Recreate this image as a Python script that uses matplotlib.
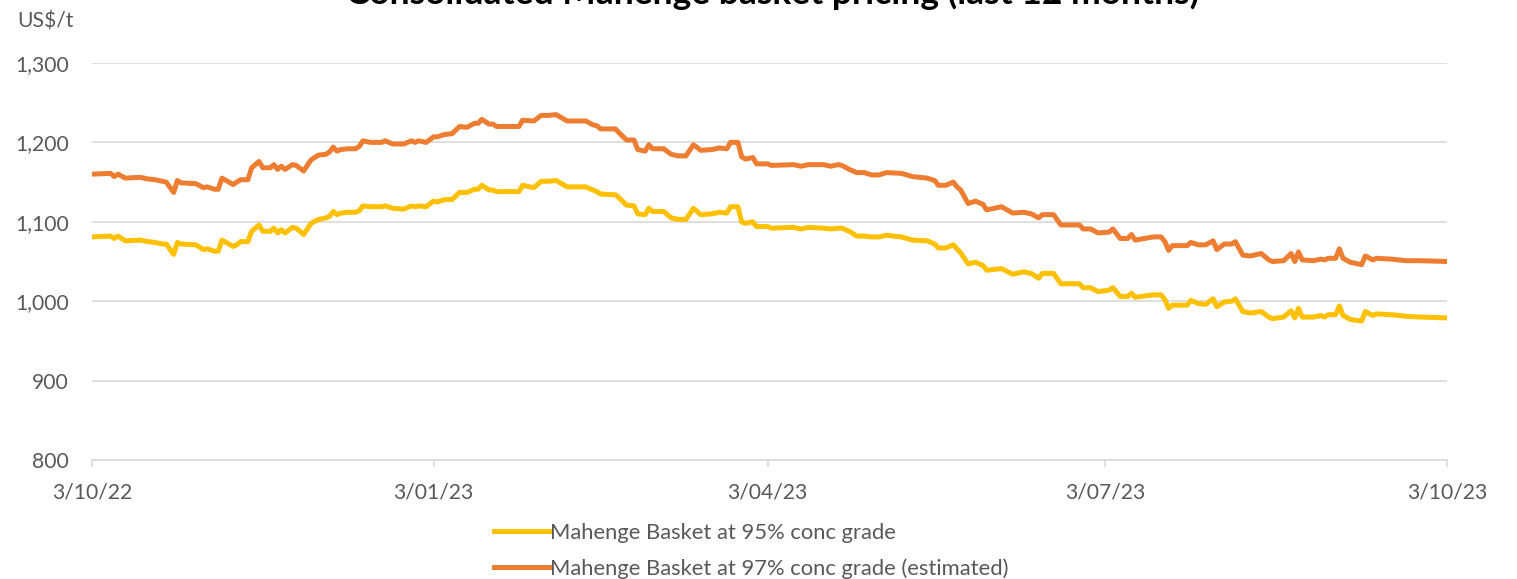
import matplotlib
matplotlib.use("Agg")
import matplotlib.pyplot as plt
import matplotlib.dates as mdates
import pandas as pd

start_date = "2022-10-03"
# days after start_date for each price point
day_offsets = [
    0, 5, 6, 7, 9, 13, 15, 17, 19, 20, 22, 23, 24, 28, 30, 31, 33, 34, 35, 38,
    39, 40, 42, 43, 45, 46, 48, 49, 50, 51, 52, 54, 55, 57, 59, 61, 63, 64, 65, 66,
    67, 69, 71, 72, 73, 75, 78, 79, 81, 84, 86, 87, 88, 90, 92, 93, 95, 97, 99, 101,
    103, 104, 105, 107, 108, 109, 115, 116, 119, 121, 123, 125, 128, 133, 135, 136, 137, 141, 142, 144,
    146, 147, 149, 150, 151, 154, 156, 158, 160, 162, 164, 167, 169, 171, 172, 174, 175, 176, 178, 179,
    182, 183, 189, 191, 193, 197, 199, 201, 202, 204, 206, 208, 210, 212, 214, 218, 221, 225, 227, 228,
    230, 232, 233, 234, 236, 238, 240, 241, 245, 248, 251, 253, 255, 256, 259, 261, 266, 267, 269, 271,
    274, 275, 277, 279, 280, 281, 286, 288, 289, 290, 291, 295, 296, 298, 300, 302, 303, 305, 307, 308,
    310, 312, 315, 317, 318, 321, 323, 324, 325, 326, 329, 331, 332, 333, 335, 336, 337, 339, 342, 343,
    345, 346, 350, 354, 358, 365,
]

basket_97 = [
    1160, 1161, 1157, 1160, 1155, 1156, 1154, 1153, 1151, 1150, 1137, 1152, 1149, 1148, 1143, 1144, 1141, 1141, 1155, 1147,
    1150, 1153, 1153, 1168, 1176, 1168, 1168, 1172, 1166, 1170, 1166, 1172, 1171, 1164, 1178, 1184, 1185, 1188, 1194, 1189,
    1191, 1192, 1192, 1195, 1202, 1200, 1200, 1202, 1198, 1198, 1202, 1200, 1202, 1200, 1207, 1207, 1210, 1211, 1220, 1219,
    1224, 1224, 1229, 1223, 1223, 1220, 1220, 1228, 1227, 1234, 1234, 1235, 1227, 1227, 1222, 1221, 1217, 1217, 1212, 1203,
    1203, 1191, 1189, 1197, 1192, 1192, 1185, 1183, 1183, 1197, 1190, 1191, 1193, 1192, 1200, 1200, 1182, 1179, 1181, 1173,
    1173, 1171, 1172, 1170, 1172, 1172, 1170, 1172, 1171, 1166, 1162, 1162, 1159, 1159, 1162, 1161, 1157, 1155, 1152, 1146,
    1146, 1150, 1144, 1140, 1123, 1126, 1122, 1115, 1119, 1111, 1112, 1110, 1105, 1109, 1109, 1096, 1096, 1091, 1091, 1086,
    1087, 1091, 1079, 1079, 1084, 1077, 1081, 1081, 1075, 1064, 1070, 1070, 1074, 1071, 1071, 1076, 1065, 1072, 1072, 1075,
    1058, 1057, 1060, 1052, 1050, 1051, 1060, 1050, 1062, 1052, 1051, 1053, 1052, 1054, 1054, 1066, 1054, 1049, 1046, 1057,
    1052, 1054, 1053, 1051, 1051, 1050,
]

basket_95 = [
    1081, 1082, 1079, 1082, 1076, 1077, 1075, 1074, 1072, 1072, 1059, 1074, 1072, 1071, 1065, 1066, 1063, 1063, 1077, 1069,
    1071, 1075, 1075, 1088, 1096, 1088, 1088, 1092, 1086, 1090, 1086, 1093, 1092, 1084, 1098, 1103, 1105, 1107, 1113, 1109,
    1111, 1112, 1112, 1114, 1120, 1119, 1119, 1120, 1117, 1116, 1120, 1119, 1120, 1119, 1126, 1125, 1128, 1128, 1137, 1137,
    1141, 1141, 1146, 1140, 1140, 1138, 1138, 1146, 1143, 1151, 1151, 1152, 1144, 1144, 1140, 1138, 1135, 1134, 1130, 1121,
    1120, 1110, 1109, 1117, 1113, 1113, 1105, 1103, 1103, 1117, 1109, 1110, 1112, 1111, 1119, 1119, 1100, 1098, 1100, 1094,
    1094, 1092, 1093, 1091, 1093, 1092, 1091, 1092, 1092, 1088, 1082, 1082, 1081, 1081, 1083, 1081, 1077, 1076, 1072, 1067,
    1067, 1071, 1066, 1061, 1047, 1049, 1045, 1039, 1041, 1034, 1037, 1035, 1029, 1035, 1035, 1022, 1022, 1017, 1017, 1012,
    1014, 1017, 1006, 1006, 1010, 1005, 1008, 1008, 1002, 991, 995, 995, 1001, 997, 996, 1003, 993, 999, 1000, 1003,
    987, 985, 987, 980, 978, 980, 988, 979, 991, 980, 980, 982, 980, 983, 983, 994, 982, 977, 975, 987,
    982, 984, 983, 981, 980, 979,
]

tick_dates = ["2022-10-03", "2023-01-03", "2023-04-03", "2023-07-03", "2023-10-03"]

label_95 = "Mahenge Basket at 95% conc grade"
label_97 = "Mahenge Basket at 97% conc grade (estimated)"

dates = pd.to_datetime(start_date) + pd.to_timedelta(day_offsets, unit="D")

plt.rcParams["font.family"] = ["Lato", "DejaVu Sans"]
text_col = "#595959"

fig = plt.figure(figsize=(15.17, 5.79), dpi=100)
ax = fig.add_axes([92 / 1517, 1 - 460 / 579, (1447 - 92) / 1517, (460 - 63) / 579])

ax.plot(dates, basket_95, color="#FFC000", lw=3.6, label=label_95, solid_joinstyle="round")
ax.plot(dates, basket_97, color="#ED7D31", lw=3.6, label=label_97, solid_joinstyle="round")

ax.set_ylim(800, 1300)
ax.set_yticks(range(800, 1301, 100))
ax.yaxis.set_major_formatter(plt.FuncFormatter(lambda v, p: f"{int(v):,}"))
ax.set_xlim(pd.to_datetime(tick_dates[0]), pd.to_datetime(tick_dates[-1]))
ax.set_xticks(pd.to_datetime(tick_dates))
ax.xaxis.set_major_formatter(mdates.DateFormatter("%-d/%m/%y"))

ax.grid(axis="y", color="#d9d9d9", lw=1.2)
ax.set_axisbelow(True)
for s in ["top", "right", "left"]:
    ax.spines[s].set_visible(False)
ax.spines["bottom"].set_color("#d9d9d9")
ax.spines["bottom"].set_linewidth(1.2)
ax.tick_params(axis="y", length=0, pad=16.5, labelsize=15.2, labelcolor=text_col)
ax.tick_params(axis="x", length=5, width=1.2, color="#d9d9d9", pad=11,
               labelsize=15.2, labelcolor=text_col)

fig.text(17 / 1517, 1 - 28 / 579, "US$/t", fontsize=15.2, color=text_col, va="baseline")
fig.text(773 / 1517, 1 - 4 / 579, "Consolidated Mahenge basket pricing (last 12 months)",
         fontsize=25.5, fontweight="bold", ha="center", va="baseline", color="black")

fig.legend(loc="upper left", bbox_to_anchor=(485 / 1517, 1 - 514 / 579), frameon=False,
           fontsize=15.8, handlelength=2.5, handletextpad=0.06, labelspacing=0.72,
           labelcolor=text_col, borderaxespad=0)

fig.savefig("out.png", dpi=100)
